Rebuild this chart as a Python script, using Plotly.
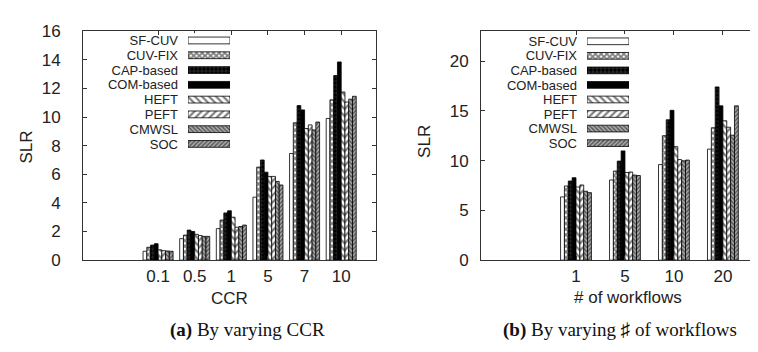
import plotly.graph_objects as go

series = ["SF-CUV", "CUV-FIX", "CAP-based", "COM-based", "HEFT", "PEFT", "CMWSL", "SOC"]

ccr_labels = ["0.1", "0.5", "1", "5", "7", "10"]
ccr_values = {
    "SF-CUV":    [0.62, 1.50, 2.20, 4.40, 7.45, 9.90],
    "CUV-FIX":   [0.90, 1.75, 2.80, 6.50, 9.60, 11.20],
    "CAP-based": [1.05, 2.10, 3.30, 7.00, 10.80, 12.90],
    "COM-based": [1.15, 2.00, 3.45, 6.15, 10.50, 13.85],
    "HEFT":      [0.72, 1.80, 3.00, 5.85, 9.20, 11.75],
    "PEFT":      [0.66, 1.72, 2.30, 5.85, 9.45, 11.05],
    "CMWSL":     [0.64, 1.66, 2.35, 5.50, 9.10, 11.25],
    "SOC":       [0.62, 1.66, 2.45, 5.25, 9.65, 11.45],
}

wf_labels = ["1", "5", "10", "20"]
wf_values = {
    "SF-CUV":    [6.35, 8.05, 9.60, 11.15],
    "CUV-FIX":   [7.45, 8.95, 12.50, 13.30],
    "CAP-based": [7.95, 9.95, 14.10, 17.40],
    "COM-based": [8.28, 11.00, 15.05, 15.50],
    "HEFT":      [7.35, 8.80, 11.40, 14.00],
    "PEFT":      [7.55, 8.85, 10.10, 13.35],
    "CMWSL":     [6.92, 8.55, 9.98, 12.55],
    "SOC":       [6.78, 8.50, 10.05, 15.50],
}

ccr_yticks = [0, 2, 4, 6, 8, 10, 12, 14, 16]
wf_yticks = [0, 5, 10, 15, 20]

styles = {
    "SF-CUV":    dict(color="white"),
    "CUV-FIX":   dict(color="white", pattern=dict(shape="x", fgcolor="black", bgcolor="white", size=4, solidity=0.7)),
    "CAP-based": dict(color="black", pattern=dict(shape="+", fgcolor="white", bgcolor="black", size=4, solidity=0.15)),
    "COM-based": dict(color="black"),
    "HEFT":      dict(color="white", pattern=dict(shape="\\", fgcolor="black", bgcolor="white", size=5, solidity=0.45)),
    "PEFT":      dict(color="white", pattern=dict(shape="/", fgcolor="black", bgcolor="white", size=5, solidity=0.45)),
    "CMWSL":     dict(color="#777", pattern=dict(shape="\\", fgcolor="black", bgcolor="#aaaaaa", size=3, solidity=0.45)),
    "SOC":       dict(color="#777", pattern=dict(shape="/", fgcolor="black", bgcolor="#aaaaaa", size=3, solidity=0.45)),
}

W, H = 758, 352
FONT = "Liberation Sans"

fig = go.Figure()

def make_marker(s):
    st = styles[s]
    marker = dict(color=st["color"], line=dict(color="black", width=0.8))
    if "pattern" in st:
        marker["pattern"] = st["pattern"]
    return marker

def add_panel(labels, values, xa, ya, group_w):
    n = len(series)
    bw = group_w / n
    for j, s in enumerate(series):
        fig.add_trace(go.Bar(
            x=list(range(len(labels))), y=values[s], name=s,
            width=bw, offset=-group_w / 2 + j * bw,
            marker=make_marker(s), xaxis=xa, yaxis=ya, showlegend=False,
        ))

def add_key(xa, ya):
    for s in series:
        fig.add_trace(go.Bar(
            x=[1], y=[s], orientation="h", width=0.46, name=s,
            marker=make_marker(s), xaxis=xa, yaxis=ya, showlegend=False,
        ))

add_panel(ccr_labels, ccr_values, "x", "y", 0.82)
add_panel(wf_labels, wf_values, "x2", "y2", 0.63)
add_key("x3", "y3")
add_key("x4", "y4")

ydom = [(H - 257) / H, (H - 15) / H]
tickfont = dict(family=FONT, size=17, color="#222")

common_x = dict(showline=True, linecolor="#333", linewidth=1, ticks="inside", ticklen=4,
                tickcolor="#333", showgrid=False, zeroline=False, tickfont=tickfont,
                ticklabelstandoff=0)
common_y = dict(showline=True, linecolor="#333", linewidth=1, ticks="inside", ticklen=4,
                tickcolor="#333", showgrid=False, zeroline=False, tickfont=tickfont)

keyfont = dict(family=FONT, size=13, color="#222")
key_y = dict(categoryorder="array", categoryarray=series, autorange="reversed",
             tickmode="array", tickvals=series, ticktext=series,
             showline=False, ticks="", showgrid=False, zeroline=False,
             ticklabelstandoff=9, tickfont=keyfont)

fig.update_layout(
    width=W, height=H, autosize=False,
    margin=dict(l=0, r=0, t=0, b=0),
    paper_bgcolor="white", plot_bgcolor="white",
    barmode="overlay",
    xaxis=dict(domain=[75 / W, 368 / W], range=[-2.05, 5.95], mirror="ticks",
               tickvals=list(range(len(ccr_labels))), ticktext=ccr_labels, **common_x),
    yaxis=dict(domain=ydom, range=[0, 16], mirror="ticks", tickvals=ccr_yticks,
               ticklabelstandoff=18, **common_y),
    xaxis2=dict(domain=[473 / W, 1.0], range=[-1.94, 3.88], mirror="ticks", anchor="y2",
                tickvals=list(range(len(wf_labels))), ticktext=wf_labels, **common_x),
    yaxis2=dict(domain=ydom, range=[0, 23], anchor="x2", tickvals=wf_yticks,
                ticklabelstandoff=8, **common_y),
    xaxis3=dict(domain=[180 / W, 222 / W], range=[0, 1], visible=False, anchor="y3", fixedrange=True),
    yaxis3=dict(domain=[(H - 142) / H, (H - 17) / H], anchor="x3", **key_y),
    xaxis4=dict(domain=[579 / W, 621 / W], range=[0, 1], visible=False, anchor="y4", fixedrange=True),
    yaxis4=dict(domain=[(H - 141) / H, (H - 18) / H], anchor="x4", **key_y),
)

title_font = dict(family=FONT, size=17, color="#222")
cap_font = dict(family="Liberation Serif", size=19, color="#111")
annots = [
    dict(text="SLR", x=19 / W, y=(H - 138) / H, textangle=-90, font=title_font),
    dict(text="SLR", x=417 / W, y=(H - 132) / H, textangle=-90, font=title_font),
    dict(text="CCR", x=221 / W, y=(H - 298) / H, font=title_font),
    dict(text="# of workflows", x=620 / W, y=(H - 297) / H, font=title_font),
    dict(text="<b>(a)</b> By varying CCR", x=239 / W, y=(H - 331) / H, font=cap_font),
    dict(text="<b>(b)</b> By varying \u266f of workflows", x=612 / W, y=(H - 331) / H, font=cap_font),
]
for a in annots:
    fig.add_annotation(xref="paper", yref="paper", showarrow=False,
                       xanchor="center", yanchor="middle", **a)

fig.write_html("out.html")
